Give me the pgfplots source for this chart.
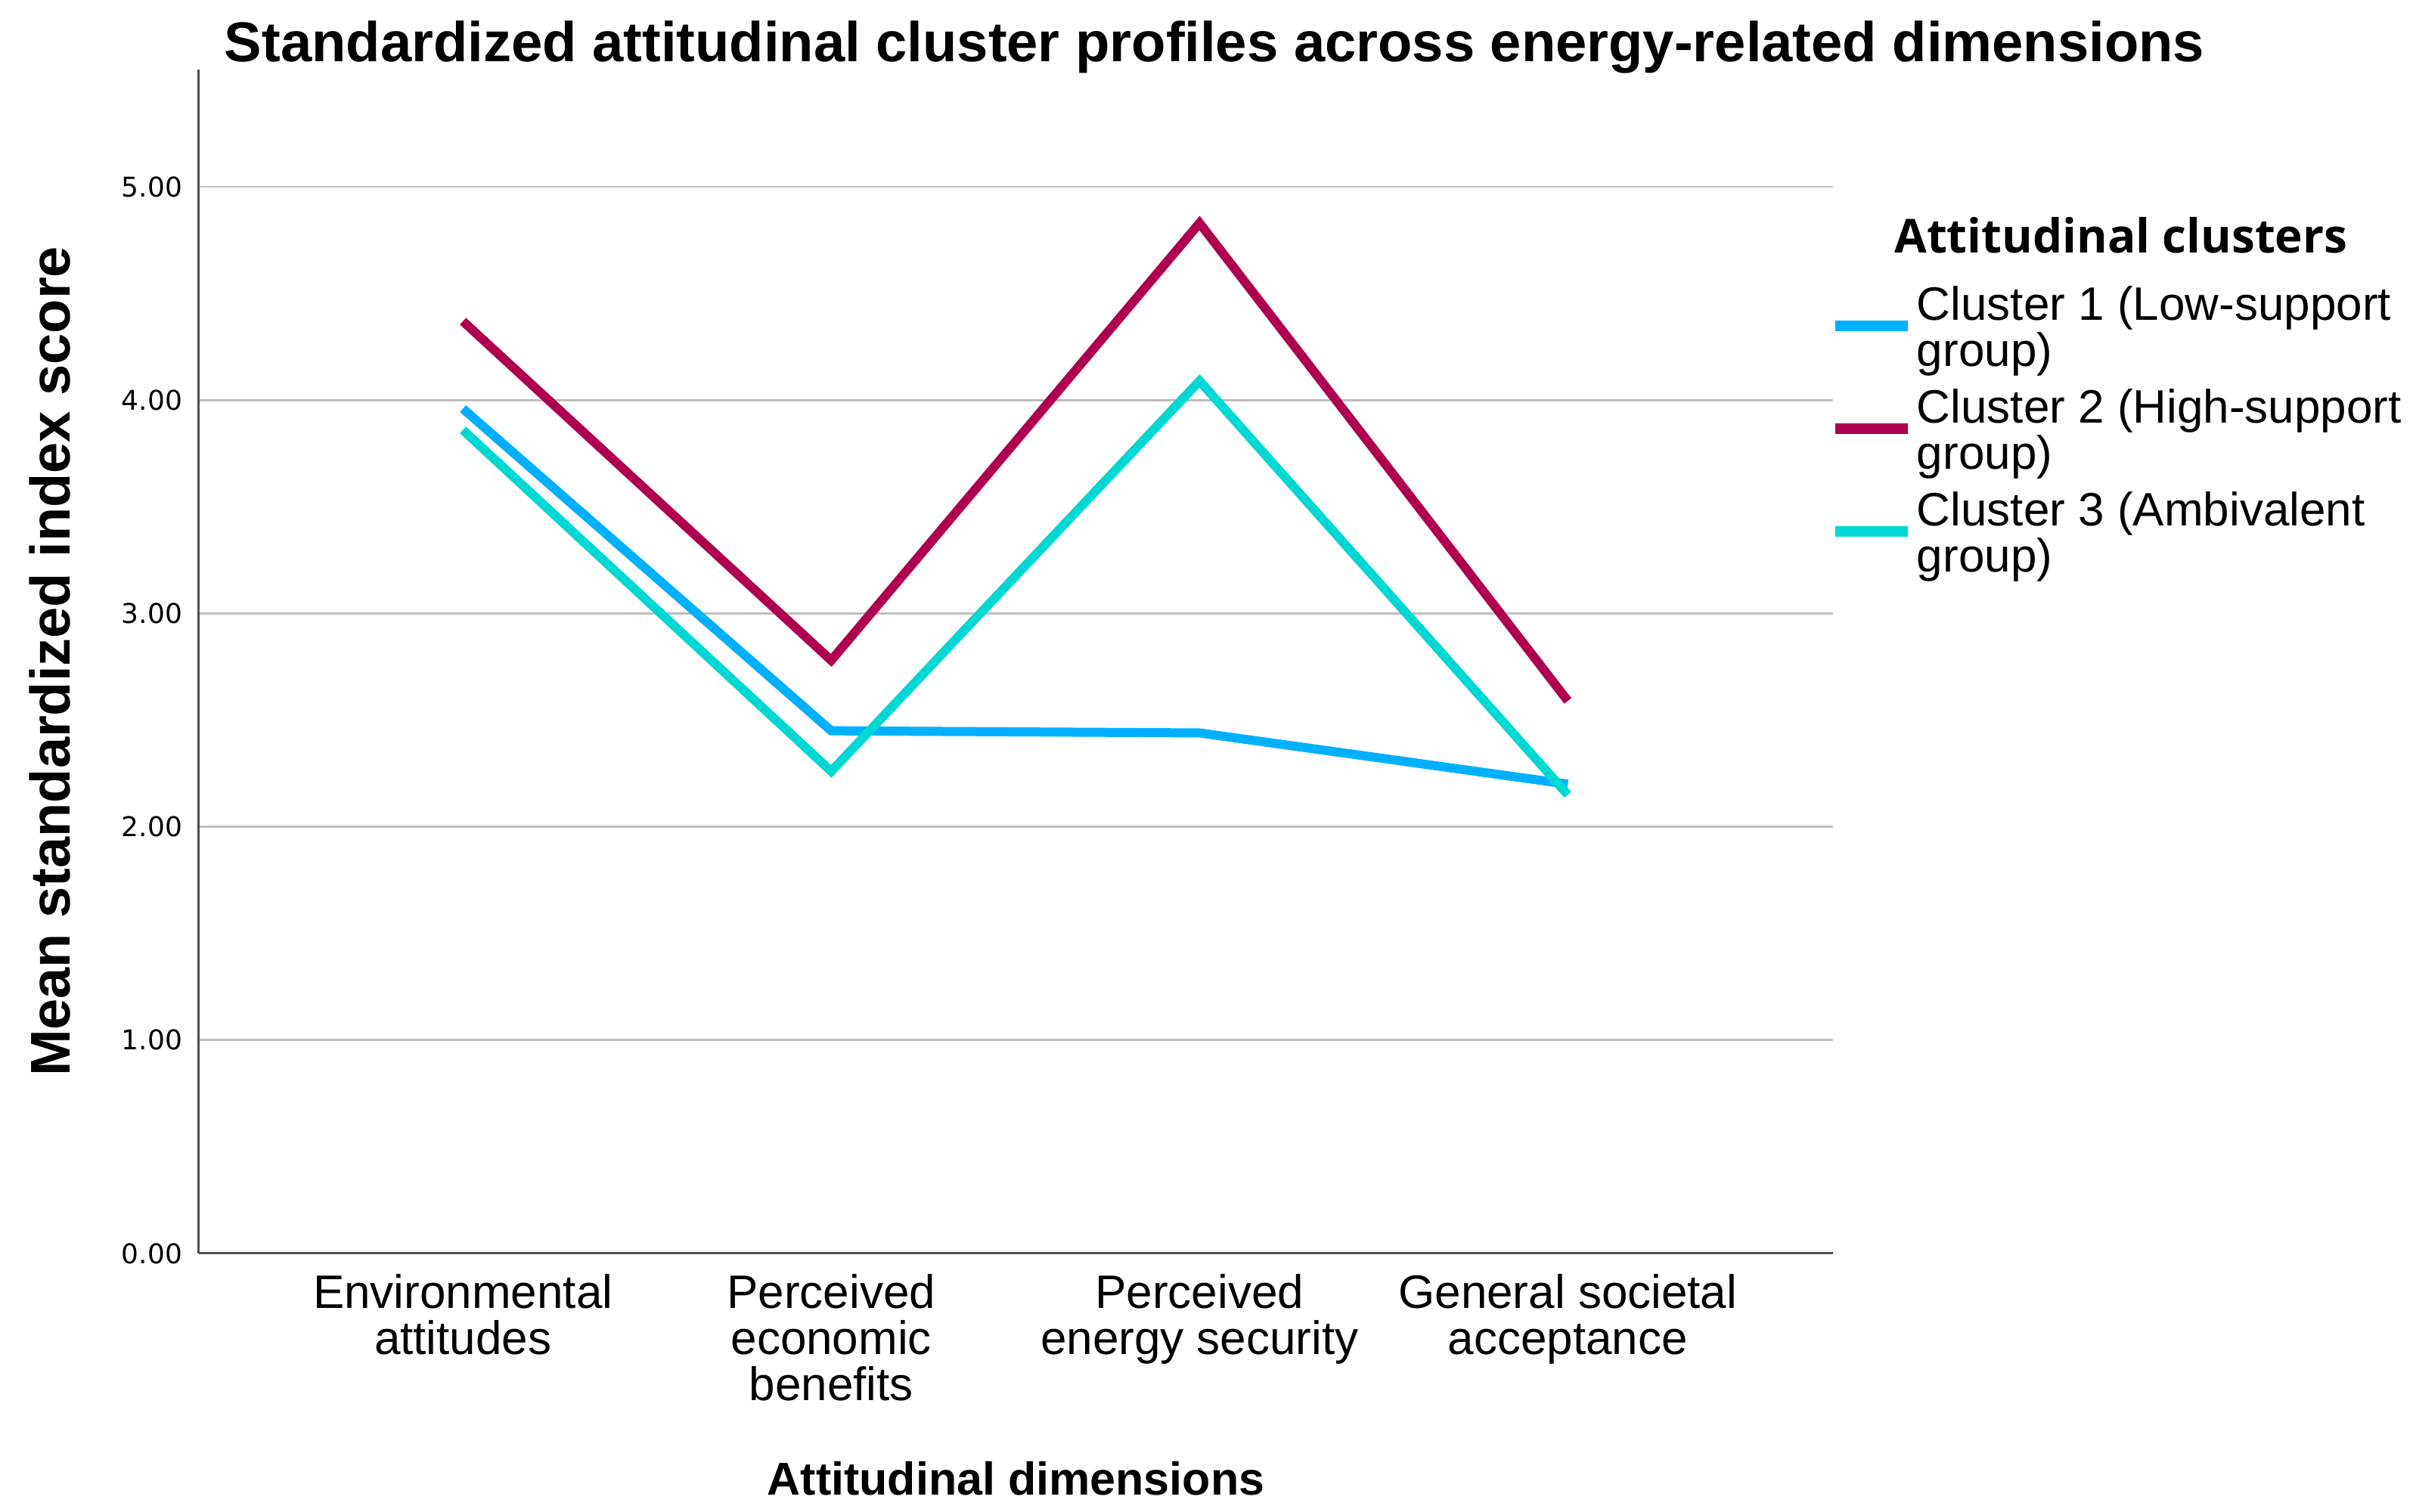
\documentclass[border=0pt]{standalone}
\usepackage{pgfplots}
\pgfplotsset{compat=1.18}
\usepackage{fontspec}
\setmainfont{Liberation Sans}
\newfontfamily\tickfont{DejaVu Sans}
\newfontfamily\legtitlefont{Open Sans}

\definecolor{clowsup}{RGB}{0,176,255}
\definecolor{chighsup}{RGB}{175,0,80}
\definecolor{cambiv}{RGB}{0,216,212}
\definecolor{gridgray}{RGB}{190,190,190}
\definecolor{axisgray}{RGB}{80,80,80}

\begin{document}
\begin{tikzpicture}
\useasboundingbox (-26.3pt,-34.2pt) rectangle (293.2pt,165.8pt);
\begin{axis}[
  scale only axis,
  width=216.1pt, height=156.6pt,
  xmin=-0.717, xmax=3.72,
  ymin=0, ymax=5.55,
  clip=false,
  axis x line*=bottom, axis y line*=left,
  axis line style={-, draw=axisgray, line width=0.3pt},
  major tick length=0pt,
  xtick={0,1,2,3},
  xticklabels={Environmental\\attitudes, Perceived\\economic\\benefits, Perceived\\energy security, General societal\\acceptance},
  xticklabel style={align=center, anchor=north, inner sep=0pt, yshift=-2.6pt, font=\fontsize{6.2}{6.1}\selectfont},
  ytick={0,1,2,3,4,5},
  yticklabels={0.00,1.00,2.00,3.00,4.00,5.00},
  yticklabel style={anchor=east, inner sep=0pt, xshift=-2pt, font=\tickfont\fontsize{3.6}{4}\selectfont},
  ymajorgrids,
  grid style={draw=gridgray, line width=0.27pt},
  title={Standardized attitudinal cluster profiles across energy-related dimensions},
  every axis title/.style={at={(axis description cs:0.6215,1.0064)}, anchor=base, inner sep=0pt, font=\bfseries\fontsize{7.42}{8}\selectfont},
  xlabel={Attitudinal dimensions},
  every axis x label/.style={at={(axis description cs:0.5,-0.2043)}, anchor=base, inner sep=0pt, font=\bfseries\fontsize{6.1}{7}\selectfont},
  ylabel={Mean standardized index score},
  every axis y label/.style={at={(axis description cs:-0.0787,0.5)}, rotate=90, anchor=base, inner sep=0pt, font=\bfseries\fontsize{7.4}{8}\selectfont},
  legend cell align=left,
  legend style={at={(axis description cs:0.9972,0.818)}, anchor=north west, draw=none, fill=none,
    inner sep=0pt, row sep=1.5pt, column sep=0.5pt,
    font=\fontsize{6.2}{6.1}\selectfont,
    nodes={inner sep=0pt, align=left}},
  legend image code/.code={\draw[#1, line width=1.4pt] (0pt,0.8pt) -- (9.6pt,0.8pt);},
]
\addplot[clowsup, line width=1.2pt] coordinates {(0,3.96) (1,2.45) (2,2.44) (3,2.20)};
\addlegendentry{Cluster 1 (Low-support\\group)}
\addplot[chighsup, line width=1.2pt] coordinates {(0,4.37) (1,2.78) (2,4.83) (3,2.59)};
\addlegendentry{Cluster 2 (High-support\\group)}
\addplot[cambiv, line width=1.2pt] coordinates {(0,3.86) (1,2.26) (2,4.09) (3,2.15)};
\addlegendentry{Cluster 3 (Ambivalent\\group)}

\node[anchor=base, inner sep=0pt, font=\legtitlefont\bfseries\fontsize{6.2}{7}\selectfont]
  at (axis description cs:1.1763,0.8451) {Attitudinal clusters};
\end{axis}
\end{tikzpicture}
\end{document}
